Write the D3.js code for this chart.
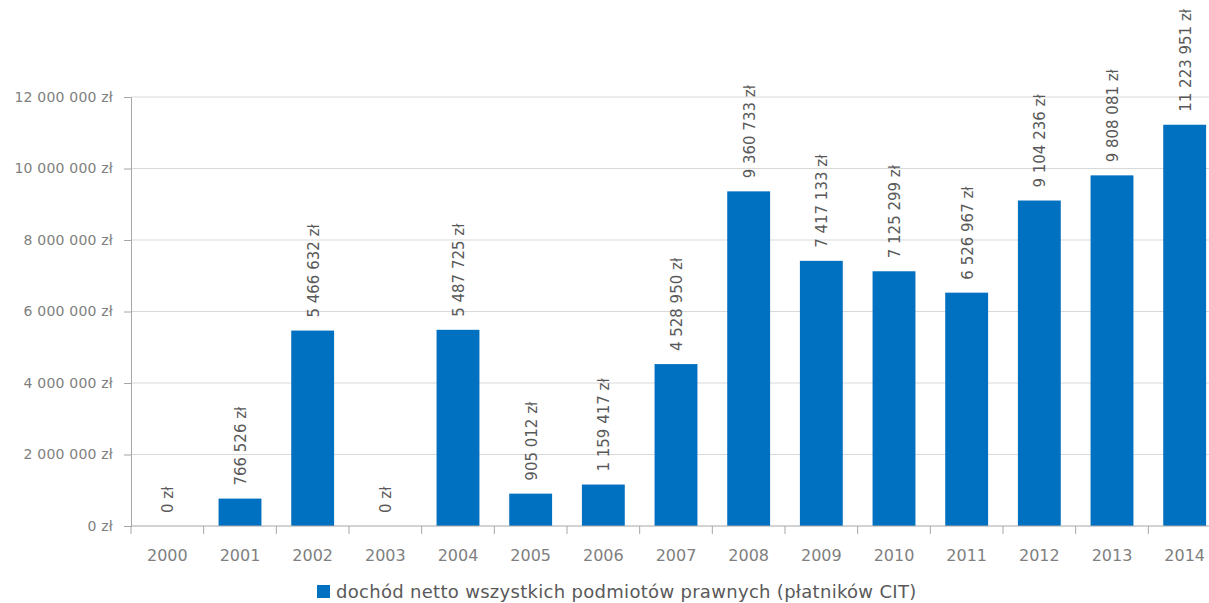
<!DOCTYPE html>
<html><head><meta charset="utf-8">
<script src="https://cdn.jsdelivr.net/npm/d3@7"></script>
<style>
html,body{margin:0;padding:0;background:#fff;}
svg{display:block;}
</style></head>
<body>
<svg id="chart" width="1209" height="603"></svg>
<script>
const years = ["2000","2001","2002","2003","2004","2005","2006","2007","2008","2009","2010","2011","2012","2013","2014"];
const values = [0,766526,5466632,0,5487725,905012,1159417,4528950,9360733,7417133,7125299,6526967,9104236,9808081,11223951];
const yTicks = [0,2000000,4000000,6000000,8000000,10000000,12000000];
const seriesName = "dochód netto wszystkich podmiotów prawnych (płatników CIT)";

const svg = d3.select("#chart");
const font = "'DejaVu Sans',Verdana,sans-serif";
const x = d3.scaleBand().domain(years).range([131,1221]).paddingInner(0.41).paddingOuter(0.205);
const y = d3.scaleLinear().domain([0,12000000]).range([526,97]);

const fmt = v => d3.format(",")(v).replace(/,/g," ") + " zł";

// gridlines
svg.append("g").selectAll("line").data(yTicks.slice(1)).join("line")
  .attr("x1",131).attr("x2",1209).attr("y1",d=>y(d)).attr("y2",d=>y(d))
  .attr("stroke","#d9d9d9").attr("stroke-width",1);

// y axis
const yAxis = svg.append("g").attr("transform","translate(131,0)")
  .call(d3.axisLeft(y).tickValues(yTicks).tickSize(7).tickPadding(11).tickFormat(fmt));
yAxis.select(".domain").attr("stroke","#a6a6a6");
yAxis.selectAll(".tick line").attr("stroke","#a6a6a6");
yAxis.selectAll("text").attr("fill","#7f7f7f").style("font-family",font).style("font-size","14px").style("letter-spacing","0.2px");

// bars
svg.append("g").selectAll("rect").data(values).join("rect")
  .attr("x",(d,i)=>x(years[i])).attr("width",x.bandwidth())
  .attr("y",d=>y(d)).attr("height",d=>y(0)-y(d))
  .attr("fill","#0070c0");

// x axis
const xa = svg.append("g").attr("transform","translate(0,526)");
xa.append("line").attr("x1",131).attr("x2",1221).attr("stroke","#a6a6a6");
const step = x.step();
xa.selectAll("line.t").data(d3.range(years.length+1)).join("line").attr("class","t")
  .attr("x1",i=>131+i*step).attr("x2",i=>131+i*step).attr("y1",0).attr("y2",8)
  .attr("stroke","#a6a6a6");
xa.selectAll("text").data(years).join("text")
  .attr("x",d=>x(d)+x.bandwidth()/2).attr("y",35)
  .attr("text-anchor","middle").attr("fill","#7f7f7f")
  .style("font-family",font).style("font-size","16px").text(d=>d);

// data labels
svg.append("g").selectAll("text").data(values).join("text")
  .attr("transform",(d,i)=>`translate(${x(years[i])+x.bandwidth()/2+6},${y(d)-13}) rotate(-90)`)
  .attr("text-anchor","start").attr("fill","#595959")
  .style("font-family",font).style("font-size","15px").text(d=>fmt(d));

// legend
const lg = svg.append("g");
lg.append("rect").attr("x",317).attr("y",585).attr("width",13).attr("height",13).attr("fill","#0070c0");
lg.append("text").attr("x",336).attr("y",598).attr("fill","#595959")
  .style("font-family",font).style("font-size","18px").style("letter-spacing","0.3px").text(seriesName);
</script>
</body></html>
